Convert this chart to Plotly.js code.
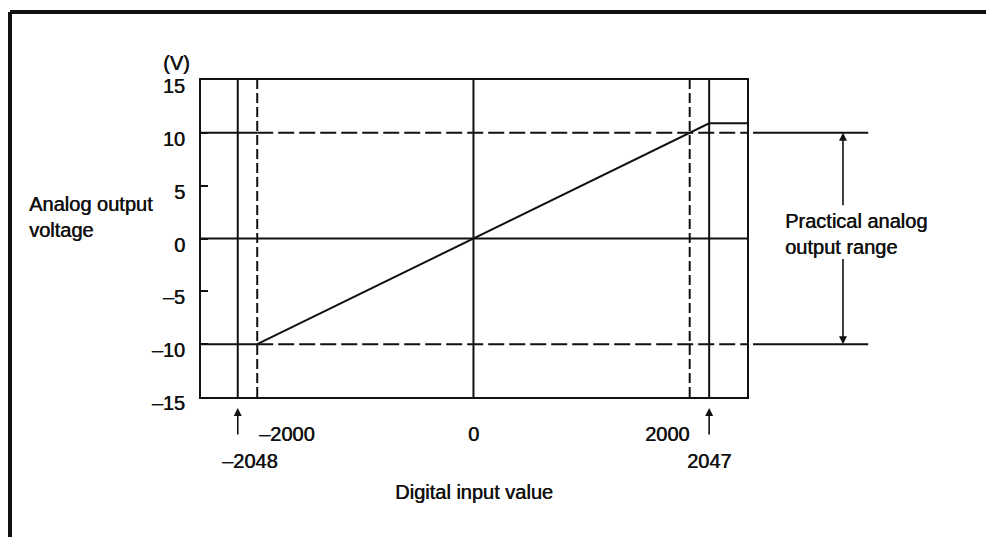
<!DOCTYPE html>
<html>
<head>
<meta charset="utf-8">
<script src="https://cdn.plot.ly/plotly-3.0.1.min.js"></script>
<style>
  body { margin: 0; background: #fff; }
  #grafica { width: 986px; height: 537px; }
</style>
</head>
<body>
<div id="grafica"></div>
<script>
// transfer curve: digital input -> analog output (V)
var inputX = [-2000, 2000, 2180, 2530];
var outputV = [-10, 10, 10.9, 10.9];

var yTicks = [-15, -10, -5, 0, 5, 10, 15];
var xTickVals = [-2000, 0, 2000];
var xTickText = ['\u20132000', '0', '2000'];

// -2048 / 2047 limits, drawn where the figure puts them
var limitPos = [-2180, 2180];
var limitText = ['\u20132048', '2047'];

var solidGuides = [-2180, 0, 2180];
var dashedGuides = [-2000, 2000];
var rangeLevels = [-10, 10];

var xRange = [-2520, 2530];
var ink = '#111';
var fnt = { family: 'Liberation Sans, Arial, sans-serif', size: 20, color: ink,
  shadow: '0.5px 0 0 #111' };

var shapes = [];
solidGuides.forEach(function (v) {
  shapes.push({ type: 'line', xref: 'x', yref: 'y', x0: v, x1: v, y0: -15, y1: 15,
    line: { color: ink, width: 2 } });
});
dashedGuides.forEach(function (v) {
  shapes.push({ type: 'line', xref: 'x', yref: 'y', x0: v, x1: v, y0: -15, y1: 15,
    line: { color: ink, width: 2, dash: '10px,4px' } });
});
// zero line
shapes.push({ type: 'line', xref: 'x', yref: 'y', x0: xRange[0], x1: xRange[1], y0: 0, y1: 0,
  line: { color: ink, width: 2 } });
rangeLevels.forEach(function (v) {
  shapes.push({ type: 'line', xref: 'x', yref: 'y', x0: xRange[0], x1: dashedGuides[0], y0: v, y1: v,
    line: { color: ink, width: 2 } });
  shapes.push({ type: 'line', xref: 'x', yref: 'y', x0: dashedGuides[0], x1: xRange[1], y0: v, y1: v,
    line: { color: ink, width: 2, dash: '16px,5px' } });
  // extension out to the range bracket
  shapes.push({ type: 'line', xref: 'paper', yref: 'y', x0: 1.011, x1: 1.222, y0: v, y1: v,
    line: { color: ink, width: 2 } });
});
// page frame (left and top edge)
shapes.push({ type: 'line', xref: 'paper', yref: 'paper', x0: -0.3498, x1: -0.3498, y0: -0.46, y1: 1.2145,
  line: { color: ink, width: 4 } });
shapes.push({ type: 'line', xref: 'paper', yref: 'paper', x0: -0.3498, x1: 1.46, y0: 1.2145, y1: 1.2145,
  line: { color: ink, width: 4 } });

var annotations = [];
xTickVals.forEach(function (v, i) {
  annotations.push({ xref: 'x', yref: 'paper', x: v, y: -0.116, yanchor: 'middle',
    xanchor: v < 0 ? 'left' : (v > 0 ? 'right' : 'center'), xshift: v > 0 ? 2 : 0,
    text: xTickText[i], showarrow: false, font: fnt });
});
limitPos.forEach(function (v, i) {
  annotations.push({ xref: 'x', yref: 'paper', x: v, y: -0.035, text: '', showarrow: true,
    ax: 0, ay: 28, arrowhead: 2, arrowsize: 1, arrowwidth: 1.6, arrowcolor: ink });
  annotations.push({ xref: 'x', yref: 'paper', x: v, y: -0.202, yanchor: 'middle', xanchor: 'center',
    xshift: v < 0 ? 12 : 0, text: limitText[i], showarrow: false, font: fnt });
});
// practical range bracket
annotations.push({ xref: 'paper', yref: 'y', x: 1.1758, y: rangeLevels[1], axref: 'pixel', ayref: 'y',
  ax: 0, ay: 3.0, text: '', showarrow: true, arrowhead: 2, arrowsize: 1, arrowwidth: 1.6, arrowcolor: ink });
annotations.push({ xref: 'paper', yref: 'y', x: 1.1758, y: rangeLevels[0], axref: 'pixel', ayref: 'y',
  ax: 0, ay: -1.8, text: '', showarrow: true, arrowhead: 2, arrowsize: 1, arrowwidth: 1.6, arrowcolor: ink });
annotations.push({ xref: 'paper', yref: 'y', x: 1.066, y: 0.4, xanchor: 'left', yanchor: 'middle', align: 'left',
  text: 'Practical analog<br>output range', showarrow: false, font: fnt });
annotations.push({ xref: 'paper', yref: 'y', x: -0.3187, y: 2.0, xanchor: 'left', yanchor: 'middle', align: 'left',
  text: 'Analog output<br>voltage', showarrow: false, font: fnt });
annotations.push({ xref: 'paper', yref: 'paper', x: -0.044, y: 1.054, xanchor: 'center', yanchor: 'middle',
  text: '(V)', showarrow: false, font: fnt });
annotations.push({ xref: 'paper', yref: 'paper', x: 0.5, y: -0.30, xanchor: 'center', yanchor: 'middle',
  text: 'Digital input value', showarrow: false, font: fnt });

var trace1 = {
  x: inputX,
  y: outputV,
  type: 'scatter',
  mode: 'lines',
  line: { color: ink, width: 2 },
  hoverinfo: 'skip'
};

var layout = {
  width: 986,
  height: 537,
  margin: { l: 201, r: 239, t: 80, b: 140 },
  paper_bgcolor: '#fff',
  plot_bgcolor: '#fff',
  showlegend: false,
  font: fnt,
  xaxis: {
    range: xRange,
    showgrid: false,
    zeroline: false,
    showticklabels: false,
    ticks: '',
    showline: true,
    mirror: true,
    linecolor: ink,
    linewidth: 2
  },
  yaxis: {
    range: [-15, 15],
    tickvals: yTicks,
    ticktext: yTicks.map(function (t) { return t < 0 ? '\u2013' + Math.abs(t) : String(t); }),
    ticks: 'inside',
    ticklen: 7,
    tickwidth: 2,
    tickcolor: ink,
    ticklabelstandoff: 10,
    ticklabelshift: 6,
    showgrid: false,
    zeroline: false,
    showline: true,
    mirror: true,
    linecolor: ink,
    linewidth: 2,
    tickfont: fnt
  },
  shapes: shapes,
  annotations: annotations
};

Plotly.newPlot('grafica', [trace1], layout, { staticPlot: true, displayModeBar: false });
</script>
</body>
</html>
